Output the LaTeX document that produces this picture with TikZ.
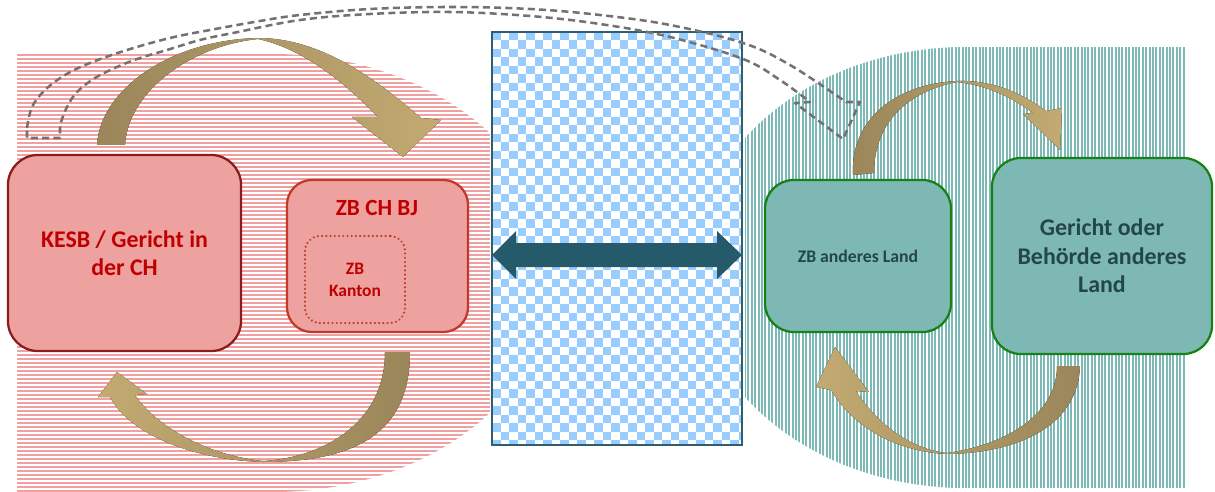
\documentclass[tikz,border=0pt]{standalone}
\usepackage{fontspec}
\setmainfont{Carlito}
\definecolor{pinkstripe}{HTML}{F0A0A0}
\definecolor{boxpink}{HTML}{EEA29F}
\definecolor{kesbborder}{HTML}{8C1B1B}
\definecolor{zbborder}{HTML}{C0392B}
\definecolor{textred}{HTML}{C00000}
\definecolor{tealstripe}{HTML}{7DB9B6}
\definecolor{tealfill}{HTML}{7DB8B5}
\definecolor{greenborder}{HTML}{168216}
\definecolor{textteal}{HTML}{234747}
\definecolor{checkblue}{HTML}{99CCFF}
\definecolor{checkborder}{HTML}{2E5F6E}
\definecolor{darkarrow}{HTML}{245A6A}
\definecolor{tandark}{HTML}{9A865A}
\definecolor{tanlight}{HTML}{C3AA72}
\definecolor{dashgray}{HTML}{767171}
\begin{document}
\begin{tikzpicture}[x=0.025cm,y=-0.025cm,
  hstripe/.style={draw=pinkstripe, line width=1.6pt},
  vstripe/.style={draw=tealstripe, line width=1.45pt},
  kesbbox/.style={draw=kesbborder, fill=boxpink, line width=1.6pt, rounded corners=0.75cm, inner sep=0pt, text=textred, font=\bfseries\fontsize{17}{20}\selectfont, align=center},
  zbbox/.style={draw=zbborder, fill=boxpink, line width=1.6pt, rounded corners=0.62cm, inner sep=0pt},
  dotbox/.style={draw=zbborder, line width=1.7pt, dash pattern=on 0.01pt off 3pt, line cap=round, rounded corners=0.38cm, inner sep=0pt, text=textred, font=\bfseries\fontsize{12.4}{15.6}\selectfont, align=center},
  greenbox/.style={draw=greenborder, fill=tealfill, line width=1.6pt, rounded corners=0.72cm, inner sep=0pt, text=textteal, align=center},
  dashline/.style={draw=dashgray, line width=1.8pt, dash pattern=on 5pt off 3pt, line join=round},
  checkframe/.style={draw=checkborder, line width=1.1pt}
]
\useasboundingbox (0,0) rectangle (1215,492);

% left striped region (rectangle part + half ellipse)
\begin{scope}
\clip (17,54) rectangle (272,492);
\foreach \yy in {55,59,...,495} \draw[hstripe] (17,\yy) -- (490,\yy);
\end{scope}
\begin{scope}
\clip (17,54) rectangle (490,492);
\clip (272,273) ellipse [x radius=7.075cm, y radius=5.475cm];
\foreach \yy in {55,59,...,495} \draw[hstripe] (17,\yy) -- (490,\yy);
\end{scope}

% right striped region (half ellipse + rectangle part)
\begin{scope}
\clip (966,47) rectangle (1185,488);
\foreach \xx in {745,748.4,...,1187} \draw[vstripe] (\xx,47) -- (\xx,488);
\end{scope}
\begin{scope}
\clip (745,47) rectangle (1185,488);
\clip (966,267.5) ellipse [x radius=6.825cm, y radius=5.5125cm];
\foreach \xx in {745,748.4,...,1187} \draw[vstripe] (\xx,47) -- (\xx,488);
\end{scope}

% checkered middle
\begin{scope}
\clip (492,32) rectangle (742,445);
\fill[white] (492,32) rectangle (742,445);
\foreach \i in {0,...,29}{\foreach \j in {0,...,48}{\ifodd\numexpr\i+\j\relax\else\fill[checkblue] ({492+\i*8.5},{32+\j*8.5}) rectangle ++(8.5,8.5);\fi}}
\end{scope}
\draw[checkframe] (492,32) rectangle (742,445);

% double arrow
\fill[darkarrow] (492,255) -- (516,231) -- (516,243) -- (717,243) -- (717,231) -- (742,255) -- (717,279) -- (717,267) -- (516,267) -- (516,279) -- cycle;

% boxes
\node[kesbbox, minimum width=5.825cm, minimum height=4.9cm] (kesb) at (124.5,253) {KESB / Gericht in\\der CH};
\node[zbbox, minimum width=4.525cm, minimum height=3.8cm] (zbch) at (377.5,256) {};
\node[text=textred, font=\bfseries\fontsize{16.5}{19}\selectfont] (zbchlabel) at (377,208) {ZB CH BJ};
\node[dotbox, minimum width=2.5cm, minimum height=2.175cm] (kanton) at (355,279.5) {ZB\\Kanton};
\node[greenbox, minimum width=4.65cm, minimum height=3.8cm, font=\bfseries\fontsize{12.6}{15}\selectfont] (zbland) at (858,256) {ZB anderes Land};
\node[greenbox, minimum width=5.5cm, minimum height=4.9cm, font=\bfseries\fontsize{17}{20.3}\selectfont] (gericht) at (1102,256) {Gericht oder\\Behörde anderes\\Land};

% curved arrows
\fill[left color=tandark, right color=tanlight]
 (97,145) .. controls (100,90) and (170,40) .. (258,38)
 .. controls (320,38) and (375,78) .. (421,118)
 -- (441,120) -- (403,157) -- (352,117) -- (378,117)
 .. controls (340,78) and (300,48) .. (258,39)
 .. controls (190,46) and (128,92) .. (125,145) -- cycle;

\fill[left color=tanlight, right color=tandark]
 (410,352) .. controls (410,430) and (360,462) .. (263,462)
 .. controls (195,460) and (130,435) .. (110,397)
 -- (98,397) -- (117,372) -- (147,394) -- (135,395)
 .. controls (155,425) and (205,455) .. (263,461)
 .. controls (320,458) and (385,425) .. (385,352) -- cycle;

\fill[left color=tandark, right color=tanlight]
 (853,175) .. controls (850,120) and (895,84) .. (957,81)
 .. controls (992,80) and (1020,92) .. (1046,111)
 -- (1062,108) -- (1060,150) -- (1023,114) -- (1033,113)
 .. controls (1010,96) and (985,85) .. (957,82)
 .. controls (905,92) and (874,125) .. (874,173) -- cycle;

\fill[left color=tanlight, right color=tandark]
 (1080,366) .. controls (1078,425) and (1020,453) .. (947,454)
 .. controls (900,452) and (855,430) .. (831,390)
 -- (816,387) -- (835,347) -- (869,392) -- (856,391)
 .. controls (880,428) and (915,450) .. (947,453)
 .. controls (1005,445) and (1057,415) .. (1057,366) -- cycle;

% dashed hollow arrow
\draw[dashline] plot[smooth, tension=0.6] coordinates {(27,128) (32,107) (45,90) (65,75) (90,63) (127,50) (170,38) (210,30) (260,21) (300,15) (370,9) (450,7) (530,9) (600,15) (670,25) (743,43) (790,65) (846,102)}
 -- (860,102) -- (843,139) -- (795,103) -- (810,102)
 -- plot[smooth, tension=0.6] coordinates {(810,102) (780,80) (743,59) (670,37) (600,24) (530,16) (450,12) (370,14) (300,20) (233,33) (200,40) (167,50) (140,58) (117,67) (95,78) (77,92) (67,107) (61,122) (60,128)}
 -- (60,138) -- (27,138) -- cycle;
\end{tikzpicture}
\end{document}
